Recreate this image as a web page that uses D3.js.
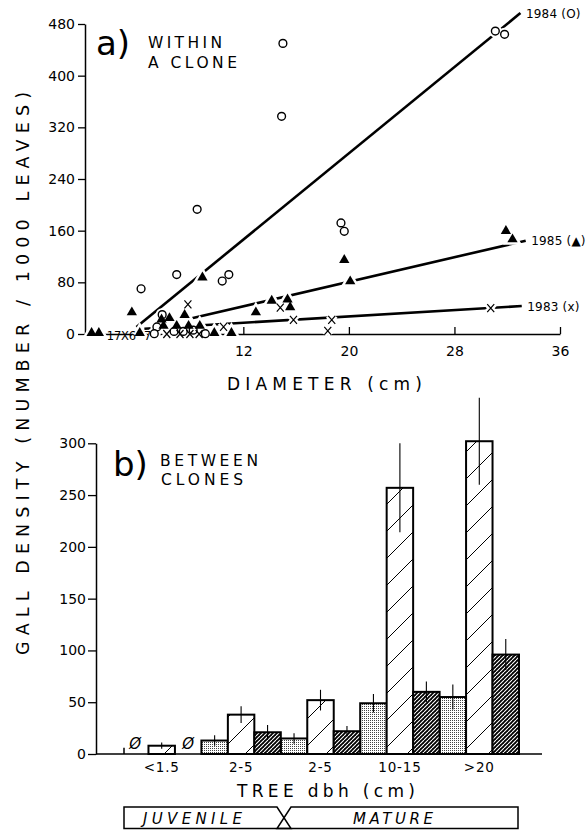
<!DOCTYPE html>
<html><head><meta charset="utf-8">
<script src="https://cdn.jsdelivr.net/npm/d3@7"></script>
<style>
body{margin:0;background:#fff}
svg{display:block}
text{font-family:"DejaVu Sans",sans-serif;fill:#000}
</style>
</head><body>
<svg id="c" width="587" height="830"></svg>
<script>
// ---------- DATA: panel a (within a clone) ----------
const yTicksA = [0, 80, 160, 240, 320, 400, 480];
const xTicksA = [12, 20, 28, 36];
// 1984 (open circles)
const c1984X = [15.0, 14.9, 31.1, 31.8, 19.4, 19.65, 8.5, 6.95, 4.25, 10.4, 10.9, 5.85, 5.45, 5.25, 6.75, 7.45, 8.2, 9.12];
const c1984Y = [450, 337, 469, 464, 172, 159, 193, 92, 70, 82, 92, 30, 11, 0.5, 4, 4, 6, 0.5];
// 1985 (filled triangles)
const t1985X = [0.5, 1.05, 3.55, 4.15, 8.9, 7.55, 6.4, 5.8, 5.95, 6.95, 7.85, 8.7, 9.8, 11.1, 12.95, 14.15, 15.35, 15.55, 19.65, 20.1, 31.9, 32.4];
const t1985Y = [0, 0, 32, 0, 86, 28, 23, 21, 11, 11, 11, 11, 0, 0, 32, 50, 52, 40, 113, 80, 158, 145];
// 1983 (crosses)
const x1983X = [7.8, 6.2, 7.2, 7.95, 8.65, 10.5, 14.8, 15.8, 18.7, 18.4, 30.75];
const x1983Y = [46, 0, 0, 0, 0, 11, 41, 22, 22, 5, 40];
// fitted lines
const fitYears = ["1983", "1984", "1985"];
const fitLabels = ["1983 (x)", "1984 (O)", "1985 (\u25B2)"];
const fitStart = [4.5, 3.9, 8.1];
const fitEnd = [33.1, 33.0, 33.4];
const fitSlope = [1.23, 16.7, 4.75];
const fitIntercept = [2.6, -54.2, -14.1];
// overlap counts
const countLabels = ["17", "X6", "7"];
const countX = [2.2, 3.3, 4.75];

// ---------- DATA: panel b (between clones) ----------
const groups = ["<1.5", "2-5", "2-5", "10-15", ">20"];
const yTicksB = [0, 50, 100, 150, 200, 250, 300];
const stippled = [0, 13, 15, 49, 55];
const stippledErr = [0, 5, 5, 9, 12];
const openHatch = [8, 38, 52, 257, 302];
const openErr = [3, 8, 10, 43, 42];
const darkHatch = [0, 21, 22, 60, 96];
const darkErr = [0, 7, 5, 10, 15];
const stageLabels = ["JUVENILE", "MATURE"];

// ---------- DRAW ----------
const svg = d3.select("#c");
const defs = svg.append("defs");

// patterns
const pSt = defs.append("pattern").attr("id", "stip").attr("patternUnits", "userSpaceOnUse")
  .attr("width", 2).attr("height", 2);
pSt.append("rect").attr("width", 2).attr("height", 2).attr("fill", "#fff");
pSt.append("rect").attr("width", 1).attr("height", 1).attr("fill", "#444");

const pOp = defs.append("pattern").attr("id", "open").attr("patternUnits", "userSpaceOnUse")
  .attr("width", 27).attr("height", 27);
pOp.append("rect").attr("width", 27).attr("height", 27).attr("fill", "#fff");
[[-27, 27, 0, 0], [0, 27, 27, 0], [27, 27, 54, 0]].forEach(([a, b, c, d]) =>
  pOp.append("line").attr("x1", a).attr("y1", b).attr("x2", c).attr("y2", d)
    .attr("stroke", "#000").attr("stroke-width", 1));

const pDk = defs.append("pattern").attr("id", "dark").attr("patternUnits", "userSpaceOnUse")
  .attr("width", 4).attr("height", 4);
pDk.append("rect").attr("width", 4).attr("height", 4).attr("fill", "#000");
[[-4, 4, 0, 0], [0, 4, 4, 0], [4, 4, 8, 0]].forEach(([a, b, c, d]) =>
  pDk.append("line").attr("x1", a).attr("y1", b).attr("x2", c).attr("y2", d)
    .attr("stroke", "#fff").attr("stroke-width", 1.1));

// ===== Panel a =====
const xA = d3.scaleLinear().domain([0, 36]).range([85, 560]);
const yA = d3.scaleLinear().domain([0, 480]).range([334, 24]);

const gA = svg.append("g");
const yAxA = gA.append("g").attr("transform", `translate(${xA(0)},0)`)
  .call(d3.axisLeft(yA).tickValues(yTicksA).tickSize(7).tickSizeOuter(0).tickPadding(3));
const xAxA = gA.append("g").attr("transform", `translate(0,${yA(0)})`)
  .call(d3.axisBottom(xA).tickValues(xTicksA).tickSize(-7).tickSizeOuter(0).tickPadding(12));
[yAxA, xAxA].forEach(a => {
  a.select(".domain").attr("stroke-width", 1.5);
  a.selectAll(".tick line").attr("stroke-width", 1.3);
  a.selectAll("text").style("font-size", "14px").attr("fill", "#000");
});

// fit lines
const fits = fitYears.map((y, i) => ({ i, x0: fitStart[i], x1: fitEnd[i], m: fitSlope[i], b: fitIntercept[i], label: fitLabels[i] }));
gA.selectAll(".fit").data(fits).enter().append("line")
  .attr("x1", d => xA(d.x0)).attr("y1", d => yA(d.m * d.x0 + d.b))
  .attr("x2", d => xA(d.x1)).attr("y2", d => yA(d.m * d.x1 + d.b))
  .attr("stroke", "#000").attr("stroke-width", 2.6);
gA.selectAll(".fitlab").data(fits).enter().append("text")
  .attr("x", d => xA(d.x1) + 5.5).attr("y", d => yA(d.m * d.x1 + d.b) + 4.5)
  .style("font-size", "12px").style("letter-spacing", "0.2px").text(d => d.label);

const circ = c1984X.map((x, i) => ({ x, y: c1984Y[i] }));
const tri = t1985X.map((x, i) => ({ x, y: t1985Y[i] }));
const crs = x1983X.map((x, i) => ({ x, y: x1983Y[i] }));
const triSym = d3.symbol().type(d3.symbolTriangle).size(46);
const crossPath = "M-3.5,-4 L3.5,4 M3.5,-4 L-3.5,4";

// halos (white gaps in lines around markers)
const halo = gA.append("g");
halo.selectAll("circle").data(circ).enter().append("circle")
  .attr("cx", d => xA(d.x)).attr("cy", d => yA(d.y)).attr("r", 6.5).attr("fill", "#fff");
halo.selectAll(".th").data(tri).enter().append("path")
  .attr("d", triSym).attr("transform", d => `translate(${xA(d.x)},${yA(d.y) - 1})`)
  .attr("fill", "#fff").attr("stroke", "#fff").attr("stroke-width", 5);
halo.selectAll(".xh").data(crs).enter().append("path")
  .attr("d", crossPath).attr("transform", d => `translate(${xA(d.x)},${yA(d.y)})`)
  .attr("fill", "none").attr("stroke", "#fff").attr("stroke-width", 6);

// markers
gA.append("g").selectAll("circle").data(circ).enter().append("circle")
  .attr("cx", d => xA(d.x)).attr("cy", d => yA(d.y)).attr("r", 3.9)
  .attr("fill", "#fff").attr("stroke", "#000").attr("stroke-width", 1.4);
gA.append("g").selectAll("path").data(tri).enter().append("path")
  .attr("d", triSym).attr("transform", d => `translate(${xA(d.x)},${yA(d.y) - 1})`)
  .attr("fill", "#000");
gA.append("g").selectAll("path").data(crs).enter().append("path")
  .attr("d", crossPath).attr("transform", d => `translate(${xA(d.x)},${yA(d.y)})`)
  .attr("fill", "none").attr("stroke", "#000").attr("stroke-width", 1.2);

// overlap counts
gA.selectAll(".cnt").data(countLabels).enter().append("text")
  .attr("x", (d, i) => xA(countX[i])).attr("y", yA(0) + 5.5).attr("text-anchor", "middle")
  .style("font-size", "11.5px").text(d => d);

// titles panel a
svg.append("text").attr("x", 96).attr("y", 55).style("font-size", "34px").text("a)");
svg.append("text").attr("x", 148).attr("y", 48).attr("textLength", 74).attr("lengthAdjust", "spacing")
  .style("font-size", "15.5px").text("WITHIN");
svg.append("text").attr("x", 148).attr("y", 68).attr("textLength", 89).attr("lengthAdjust", "spacing")
  .style("font-size", "15.5px").text("A CLONE");
svg.append("text").attr("x", 227).attr("y", 390).attr("textLength", 195).attr("lengthAdjust", "spacing")
  .style("font-size", "17px").text("DIAMETER  (cm)");

// shared y title
svg.append("text").attr("transform", "translate(29,655) rotate(-90)")
  .attr("textLength", 563).attr("lengthAdjust", "spacing")
  .style("font-size", "17.5px").text("GALL DENSITY (NUMBER / 1000 LEAVES)");

// ===== Panel b =====
const yB = d3.scaleLinear().domain([0, 300]).range([754, 443.3]);
const xB = d3.scaleBand().domain(d3.range(groups.length)).range([122, 519]).padding(0);
const xSub = d3.scaleBand().domain(["st", "op", "dk"]).range([0, xB.bandwidth()]);

const gB = svg.append("g");
const yAxB = gB.append("g").attr("transform", "translate(96,0)")
  .call(d3.axisLeft(yB).tickValues(yTicksB).tickSize(8).tickSizeOuter(0).tickPadding(2));
yAxB.select(".domain").attr("stroke-width", 1.5);
yAxB.selectAll(".tick line").attr("stroke-width", 1.3);
yAxB.selectAll("text").style("font-size", "14px").attr("fill", "#000");

const xAxB = gB.append("g").attr("transform", `translate(0,${yB(0)})`)
  .call(d3.axisBottom(xB).tickFormat(i => groups[i]).tickSize(0).tickPadding(8));
xAxB.select(".domain").remove();
xAxB.selectAll("text").style("font-size", "13.5px").style("letter-spacing", "0.8px").attr("fill", "#000");
gB.append("line").attr("x1", 96).attr("x2", 542).attr("y1", yB(0)).attr("y2", yB(0))
  .attr("stroke", "#000").attr("stroke-width", 1.5);

const series = [
  { key: "st", vals: stippled, errs: stippledErr, fill: "url(#stip)" },
  { key: "op", vals: openHatch, errs: openErr, fill: "url(#open)" },
  { key: "dk", vals: darkHatch, errs: darkErr, fill: "url(#dark)" }
];
const bars = [];
series.forEach(s => s.vals.forEach((v, i) => bars.push({ i, key: s.key, v, e: s.errs[i], fill: s.fill })));
const nz = bars.filter(d => d.v > 0);
gB.append("g").selectAll("rect").data(nz).enter().append("rect")
  .attr("x", d => xB(d.i) + xSub(d.key)).attr("width", xSub.bandwidth())
  .attr("y", d => yB(d.v)).attr("height", d => yB(0) - yB(d.v))
  .attr("fill", d => d.fill).attr("stroke", "#000").attr("stroke-width", 2);
gB.append("g").selectAll("line").data(nz).enter().append("line")
  .attr("x1", d => xB(d.i) + xSub(d.key) + xSub.bandwidth() / 2)
  .attr("x2", d => xB(d.i) + xSub(d.key) + xSub.bandwidth() / 2)
  .attr("y1", d => yB(d.v + d.e)).attr("y2", d => yB(Math.max(0, d.v - d.e)))
  .attr("stroke", "#000").attr("stroke-width", 1.1);
// zero markers
gB.append("g").selectAll("text").data(bars.filter(d => d.v === 0)).enter().append("text")
  .attr("x", d => xB(d.i) + xSub(d.key) + xSub.bandwidth() / 2).attr("y", yB(0) - 5)
  .attr("text-anchor", "middle").style("font-size", "15px").style("font-style", "italic").text("\u00D8");
gB.append("line").attr("x1", xB(0) + 2).attr("x2", xB(0) + 2).attr("y1", yB(6)).attr("y2", yB(0))
  .attr("stroke", "#000").attr("stroke-width", 1.5);

// titles panel b
svg.append("text").attr("x", 113).attr("y", 476).style("font-size", "34px").text("b)");
svg.append("text").attr("x", 160).attr("y", 466).attr("textLength", 98).attr("lengthAdjust", "spacing")
  .style("font-size", "15.5px").text("BETWEEN");
svg.append("text").attr("x", 161).attr("y", 485).attr("textLength", 82).attr("lengthAdjust", "spacing")
  .style("font-size", "15.5px").text("CLONES");
svg.append("text").attr("x", 237).attr("y", 797).attr("textLength", 178).attr("lengthAdjust", "spacing")
  .style("font-size", "17px").text("TREE dbh  (cm)");

// stage band
const band = svg.append("g").attr("fill", "none").attr("stroke", "#000").attr("stroke-width", 1.5);
band.append("path").attr("d", "M124,807 L277,807 L291,828.5 L124,828.5 Z");
band.append("path").attr("d", "M291,807 L518,807 L518,828.5 L277,828.5 Z");
svg.append("text").attr("x", 143).attr("y", 824).attr("textLength", 99).attr("lengthAdjust", "spacing")
  .style("font-size", "15px").style("font-style", "italic").text(stageLabels[0]);
svg.append("text").attr("x", 353).attr("y", 824).attr("textLength", 80).attr("lengthAdjust", "spacing")
  .style("font-size", "15px").style("font-style", "italic").text(stageLabels[1]);
</script>
</body></html>
